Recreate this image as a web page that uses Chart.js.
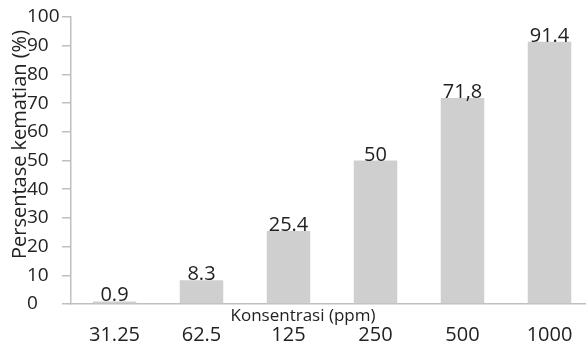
<!DOCTYPE html>
<html>
<head>
<meta charset="utf-8">
<script src="https://cdn.jsdelivr.net/npm/chart.js@4/dist/chart.umd.min.js"></script>
<style>
  html, body { margin: 0; padding: 0; background: #fff; overflow: hidden; }
  #wrap { width: 586px; height: 347px; overflow: hidden; }
  canvas { display: block; }
</style>
</head>
<body>
<div id="wrap"><canvas id="c" width="593" height="347"></canvas></div>
<script>
// Konsentrasi ekstrak (ppm) dan persentase kematian
const categories = ['31.25', '62.5', '125', '250', '500', '1000'];
const mortality = [0.9, 8.3, 25.4, 50, 71.8, 91.4];
const mortalityText = ['0.9', '8.3', '25.4', '50', '71,8', '91.4'];
const yTicks = [0, 10, 20, 30, 40, 50, 60, 70, 80, 90, 100];

const FONT = '"Open Sans", "DejaVu Sans", sans-serif';
const TEXT = '#222222';
const AXIS = '#bfbfbf';

// Value labels above each bar
const barValues = {
  id: 'barValues',
  afterDatasetsDraw(chart) {
    const ctx = chart.ctx;
    const meta = chart.getDatasetMeta(0);
    ctx.save();
    ctx.font = '20px ' + FONT;
    ctx.fillStyle = TEXT;
    ctx.textAlign = 'center';
    ctx.textBaseline = 'alphabetic';
    meta.data.forEach((bar, i) => {
      ctx.fillText(mortalityText[i], bar.x, bar.y);
    });
    ctx.restore();
  }
};

// Axis titles
const axisTitles = {
  id: 'axisTitles',
  afterDraw(chart) {
    const { ctx, chartArea } = chart;
    ctx.save();
    ctx.fillStyle = TEXT;
    ctx.textAlign = 'center';
    ctx.textBaseline = 'middle';
    ctx.font = '17px ' + FONT;
    ctx.fillText('Konsentrasi (ppm)', chartArea.left + 232, chartArea.bottom + 12);
    ctx.font = '20px ' + FONT;
    ctx.translate(chartArea.left - 51, (chartArea.top + chartArea.bottom) / 2 - 16);
    ctx.rotate(-Math.PI / 2);
    ctx.fillText('Persentase kematian (%)', 0, 0);
    ctx.restore();
  }
};

new Chart(document.getElementById('c'), {
  type: 'bar',
  data: {
    labels: categories,
    datasets: [{
      data: mortality,
      backgroundColor: '#d0cfd0',
      borderWidth: 0,
      barPercentage: 1,
      categoryPercentage: 0.5
    }]
  },
  options: {
    responsive: false,
    animation: false,
    layout: { padding: { top: 17, right: 0, bottom: 0, left: 27 } },
    plugins: { legend: { display: false }, tooltip: { enabled: false } },
    scales: {
      x: {
        offset: true,
        afterFit(scale) { scale.height = 43; },
        grid: { display: false, drawTicks: false },
        border: { display: true, color: AXIS, width: 1.5 },
        ticks: { color: TEXT, font: { family: FONT, size: 20 }, padding: 19, maxRotation: 0 }
      },
      y: {
        min: 0,
        max: 100,
        afterFit(scale) { scale.width = 44; },
        afterBuildTicks(scale) { scale.ticks = yTicks.map(v => ({ value: v })); },
        grid: { drawOnChartArea: false, drawTicks: true, tickLength: 9, color: AXIS, lineWidth: 1.5 },
        border: { display: true, color: AXIS, width: 1.5 },
        ticks: { color: TEXT, font: { family: FONT, size: 19 }, padding: 3, crossAlign: 'far' }
      }
    }
  },
  plugins: [barValues, axisTitles]
});
</script>
</body>
</html>
